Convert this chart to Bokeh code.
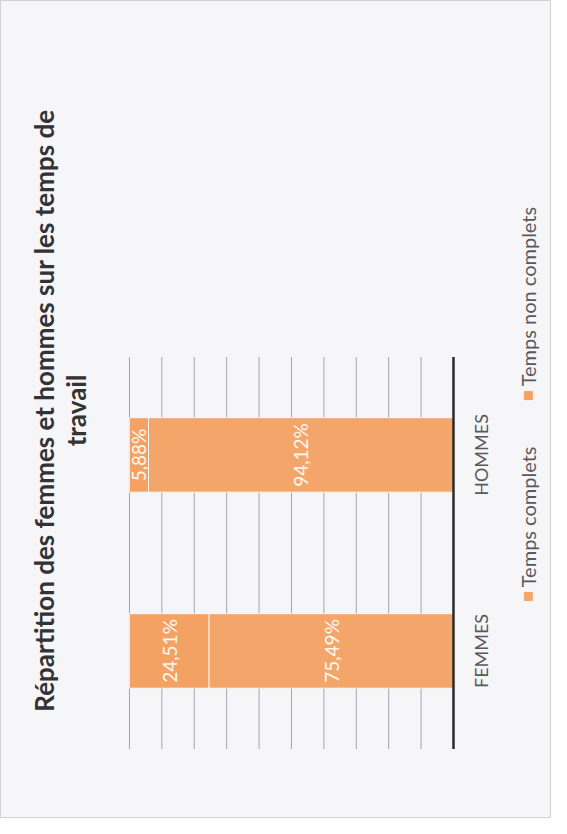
import numpy as np
from bokeh.plotting import figure
from bokeh.models import ColumnDataSource, Range1d
from bokeh.core.properties import value
from bokeh.embed import file_html
from bokeh.resources import INLINE

# ---- data ----
categories = ["FEMMES", "HOMMES"]
temps_complets = [75.49, 94.12]
temps_non_complets = [24.51, 5.88]
series_names = ["Temps complets", "Temps non complets"]
grid_ticks = [10, 20, 30, 40, 50, 60, 70, 80, 90, 100]
title_lines = ["Répartition des femmes et hommes sur les temps de", "travail"]

FONT = "Lato"
C_FULL = "#F4A66A"
C_PART = "#F3A264"
TXT = "#595959"

pos = list(range(len(categories)))
src = ColumnDataSource(dict(
    y=pos, cat=categories,
    full=temps_complets, part=temps_non_complets,
    full_mid=[v / 2 for v in temps_complets],
    part_mid=[a + b / 2 for a, b in zip(temps_complets, temps_non_complets)],
    full_lbl=[f"{v:.2f}".replace(".", ",") + "%" for v in temps_complets],
    part_lbl=[f"{v:.2f}".replace(".", ",") + "%" for v in temps_non_complets],
))

p = figure(width=551, height=818, output_backend="svg", toolbar_location=None,
           x_range=Range1d(139.8, -30.25), y_range=Range1d(-0.855, 3.319),
           x_axis_location=None, y_axis_location=None, min_border=0,
           background_fill_color="#F6F5F8", border_fill_color="#F6F5F8",
           outline_line_color="#D2D0D6")
p.grid.visible = False

# grid lines (value axis, shown vertically because the chart is rotated)
p.segment(x0=grid_ticks, x1=grid_ticks, y0=-0.5, y1=len(categories) - 0.5,
          line_color="#A4A4AC", line_width=1)

# stacked bars
p.hbar_stack(["full", "part"], y="y", height=0.38, source=src,
             color=[C_FULL, C_PART], line_color="white", line_width=0.8)

# baseline
p.segment(x0=[0], x1=[0], y0=-0.5, y1=len(categories) - 0.5,
          line_color="#2B2B2B", line_width=2.5)

# data labels
p.text(x="full_mid", y="y", text="full_lbl", source=src, angle=np.pi / 2,
       text_align="center", text_baseline="middle", text_color="#FFF8F0",
       text_font=value(FONT), text_font_size="19px")
p.text(x="part_mid", y="y", text="part_lbl", source=src, angle=np.pi / 2,
       text_align="center", text_baseline="middle", text_color="#FFF8F0",
       text_font=value(FONT), text_font_size="19px")

# category labels
p.text(x=-8.6, y="y", text="cat", source=src, angle=np.pi / 2,
       text_align="center", text_baseline="middle", text_color=TXT,
       text_font=value(FONT), text_font_size="18px")

# title (rotated)
p.text(x=[126.3, 116.4], y=[1.227, 1.227], text=title_lines, angle=np.pi / 2,
       text_align="center", text_baseline="middle", text_color="#333333",
       text_font=value(FONT), text_font_size="26px", text_font_style="bold")

# legend (rotated)
p.scatter(x=[-23.1, -23.1], y=[0.278, 1.303], marker="square", size=8,
          color=[C_FULL, C_PART])
p.text(x=[-23.1, -23.1], y=[0.325, 1.35], text=series_names, angle=np.pi / 2,
       text_align="left", text_baseline="middle", text_color=TXT,
       text_font=value(FONT), text_font_size="20px")

open("out.html", "w").write(file_html(p, INLINE))
